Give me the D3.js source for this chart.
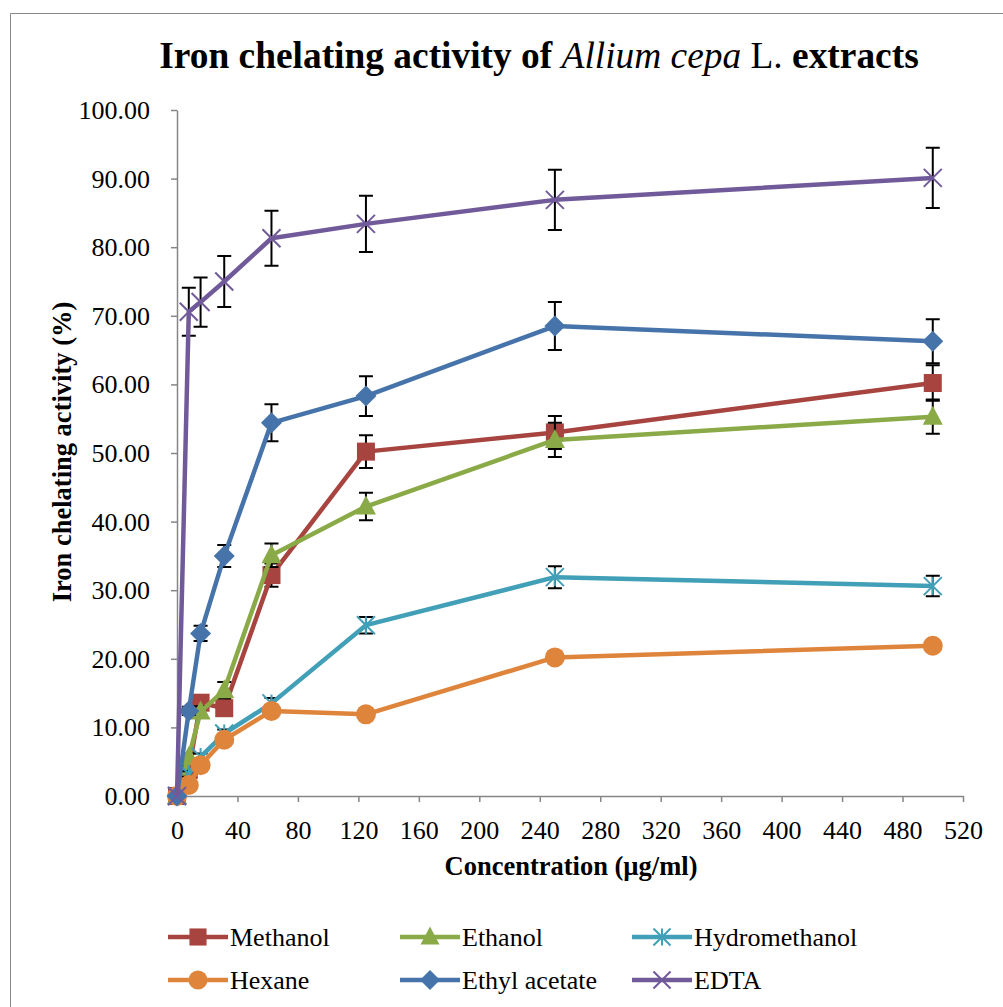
<!DOCTYPE html>
<html><head><meta charset="utf-8">
<script src="https://cdn.jsdelivr.net/npm/d3@7"></script>
<style>body{margin:0;background:#fff}</style>
</head><body>
<svg id="c" width="1003" height="1007"></svg>
<script>
const conc = [0, 7.8, 15.6, 31.25, 62.5, 125, 250, 500];
const methanol = [0, 3.8, 13.6, 12.8, 32.2, 50.2, 53.0, 60.2];
const methanolErr = [0, 0.5, 0.6, 0.8, 1.7, 2.4, 2.4, 2.6];
const ethanol = [0, 5.7, 12.3, 15.4, 35.1, 42.2, 51.9, 55.3];
const ethanolErr = [0, 0.5, 0.8, 1.2, 1.7, 2.0, 2.5, 2.5];
const hydromethanol = [0, 3.2, 5.7, 9.1, 13.5, 24.9, 31.9, 30.6];
const hydromethanolErr = [0, 0.4, 0.5, 0.6, 0.8, 1.2, 1.6, 1.5];
const hexane = [0, 1.6, 4.5, 8.2, 12.4, 11.9, 20.2, 21.9];
const hexaneErr = [0, 0.2, 0.3, 0.4, 0.5, 0.4, 0.6, 0.6];
const ethylAcetate = [0, 12.4, 23.7, 35.0, 54.4, 58.3, 68.5, 66.3];
const ethylAcetateErr = [0, 0.6, 1.1, 1.6, 2.7, 2.9, 3.5, 3.2];
const edta = [0, 70.6, 72.0, 75.0, 81.3, 83.4, 86.9, 90.1];
const edtaErr = [0, 3.5, 3.6, 3.7, 4.0, 4.1, 4.4, 4.4];
const xTicks = [0,40,80,120,160,200,240,280,320,360,400,440,480,520];
const yTicks = [0,10,20,30,40,50,60,70,80,90,100];

const series = [
  {name:"Methanol", values:methanol, err:methanolErr, color:"#A8443F", marker:"square"},
  {name:"Ethanol", values:ethanol, err:ethanolErr, color:"#8AAA48", marker:"triangle"},
  {name:"Hydromethanol", values:hydromethanol, err:hydromethanolErr, color:"#419FB7", marker:"asterisk"},
  {name:"Hexane", values:hexane, err:hexaneErr, color:"#DF843B", marker:"circle"},
  {name:"Ethyl acetate", values:ethylAcetate, err:ethylAcetateErr, color:"#4674AA", marker:"diamond"},
  {name:"EDTA", values:edta, err:edtaErr, color:"#715A9A", marker:"x"}
];

const svg = d3.select("#c");
const serif = "'Liberation Serif','Times New Roman',serif";
// outer frame
svg.append("path").attr("d","M10.5,1007 L10.5,13.5 L1003,13.5").attr("fill","none").attr("stroke","#888").attr("stroke-width",1);

const x = d3.scaleLinear().domain([0,520]).range([177,963]);
const y = d3.scaleLinear().domain([0,100]).range([796,110]);

// title
const t = svg.append("text").attr("x",539).attr("y",68).attr("text-anchor","middle")
  .attr("font-family",serif).attr("font-size",37.4).attr("fill","#000");
t.append("tspan").attr("font-weight","bold").text("Iron chelating activity of ");
t.append("tspan").attr("font-style","italic").text("Allium cepa");
t.append("tspan").text(" L. ");
t.append("tspan").attr("font-weight","bold").text("extracts");

// axes
const xAxis = svg.append("g").attr("transform","translate(0,796)")
  .call(d3.axisBottom(x).tickValues(xTicks).tickSize(6).tickSizeOuter(0).tickPadding(12).tickFormat(d3.format("d")));
const yAxis = svg.append("g").attr("transform","translate(177,0)")
  .call(d3.axisLeft(y).tickValues(yTicks).tickSize(6).tickSizeOuter(0).tickPadding(21).tickFormat(d3.format(".2f")));
[xAxis,yAxis].forEach(g=>{
  g.select(".domain").attr("stroke","#868686").attr("stroke-width",1.5);
  g.selectAll(".tick line").attr("stroke","#868686").attr("stroke-width",1.5);
  g.selectAll(".tick text").attr("font-family",serif).attr("font-size",26).attr("fill","#000");
});
xAxis.selectAll(".tick text").attr("dy","0.95em");
yAxis.selectAll(".tick text").attr("dy","0.33em");

svg.append("text").attr("x",571).attr("y",875).attr("text-anchor","middle")
  .attr("font-family",serif).attr("font-weight","bold").attr("font-size",26.5).text("Concentration (µg/ml)");
svg.append("text").attr("transform","translate(71,452) rotate(-90)").attr("text-anchor","middle")
  .attr("font-family",serif).attr("font-weight","bold").attr("font-size",26.5).text("Iron chelating activity (%)");

function drawMarker(g, type, cx, cy, color, s){
  s = s || 1;
  if(type==="square"){
    g.append("rect").attr("x",cx-9*s).attr("y",cy-9*s).attr("width",18*s).attr("height",18*s).attr("fill",color);
  } else if(type==="triangle"){
    const h=10*s;
    g.append("path").attr("d",`M${cx},${cy-h*1.1} L${cx+h},${cy+h*0.8} L${cx-h},${cy+h*0.8} Z`).attr("fill",color);
  } else if(type==="circle"){
    g.append("circle").attr("cx",cx).attr("cy",cy).attr("r",10*s).attr("fill",color);
  } else if(type==="diamond"){
    const r=10.5*s;
    g.append("path").attr("d",`M${cx},${cy-r} L${cx+r},${cy} L${cx},${cy+r} L${cx-r},${cy} Z`).attr("fill",color);
  } else if(type==="x"){
    const r=9*s;
    g.append("path").attr("d",`M${cx-r},${cy-r} L${cx+r},${cy+r} M${cx-r},${cy+r} L${cx+r},${cy-r}`).attr("stroke",color).attr("stroke-width",2).attr("fill","none");
  } else if(type==="asterisk"){
    const r=9*s;
    g.append("path").attr("d",`M${cx-r},${cy-r} L${cx+r},${cy+r} M${cx-r},${cy+r} L${cx+r},${cy-r} M${cx},${cy-r} L${cx},${cy+r}`).attr("stroke",color).attr("stroke-width",2).attr("fill","none");
  }
}

const line = d3.line().x(d=>x(d[0])).y(d=>y(d[1]));
series.forEach(s=>{
  const g = svg.append("g");
  const pts = conc.map((c,i)=>[c,s.values[i],s.err[i]]);
  // error bars
  pts.forEach(p=>{
    if(p[2]<=0) return;
    const cx=x(p[0]), y1=y(p[1]+p[2]), y2=y(p[1]-p[2]);
    g.append("path").attr("d",`M${cx},${y1} L${cx},${y2} M${cx-7},${y1} L${cx+7},${y1} M${cx-7},${y2} L${cx+7},${y2}`)
      .attr("stroke","#000").attr("stroke-width",2).attr("fill","none");
  });
  g.append("path").datum(pts).attr("d",line).attr("fill","none").attr("stroke",s.color)
    .attr("stroke-width",4.5).attr("stroke-linejoin","round");
  pts.forEach(p=>drawMarker(g,s.marker,x(p[0]),y(p[1]),s.color));
});

// legend
const legX = [168,400,632], legY=[937,980];
series.forEach((s,i)=>{
  const lx = legX[i%3], ly = legY[Math.floor(i/3)];
  const g = svg.append("g");
  g.append("line").attr("x1",lx).attr("x2",lx+60).attr("y1",ly).attr("y2",ly).attr("stroke",s.color).attr("stroke-width",4.5);
  drawMarker(g,s.marker,lx+30,ly,s.color,0.95);
  g.append("text").attr("x",lx+62).attr("y",ly).attr("dy","0.35em").attr("font-family",serif).attr("font-size",26).text(s.name);
});
</script>
</body></html>
